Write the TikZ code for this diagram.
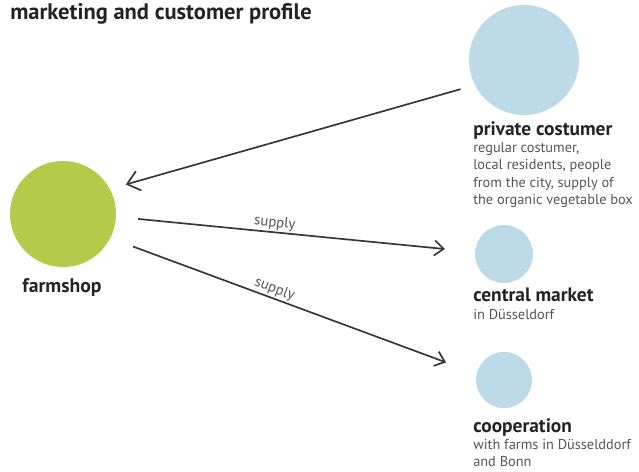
\documentclass[tikz,border=0pt]{standalone}
\usepackage{fontspec}
\setmainfont{PT Sans}
\usetikzlibrary{arrows.meta}
\tikzset{>={Straight Barb[length=2.3mm,width=3.8mm]}}
\definecolor{farmgreen}{RGB}{180,202,75}
\definecolor{custblue}{RGB}{188,218,231}
\definecolor{linegrey}{RGB}{55,55,55}
\definecolor{textgrey}{RGB}{85,85,85}
\definecolor{headgrey}{RGB}{35,35,35}
\tikzstyle{greendot}=[circle,fill=farmgreen,inner sep=0pt]
\tikzstyle{bluedot}=[circle,fill=custblue,inner sep=0pt]
\tikzstyle{arrowline}=[draw=linegrey,line width=1.2pt]
\tikzstyle{infotext}=[anchor=north west,inner sep=0pt,align=left,text=textgrey,font=\fontsize{10.2}{12.4}\selectfont]
\tikzstyle{supplytext}=[text=textgrey,inner sep=1pt,font=\fontsize{10.5}{11}\selectfont]
\newcommand{\headline}[1]{{\fontsize{13.8}{12.4}\selectfont\bfseries\color{headgrey}\strut #1}}

\begin{document}
\begin{tikzpicture}[x=0.025cm,y=-0.025cm]
    \useasboundingbox (0,0) rectangle (639,472);
    \node[anchor=base west,inner sep=0pt,text=headgrey,font=\fontsize{16}{18}\selectfont\bfseries] (title) at (10,20) {marketing and customer profile};

    % farm shop
    \node[greendot,minimum size=2.65cm] (farm) at (63,214) {};
    \node[anchor=base,inner sep=0pt,text=headgrey,font=\fontsize{14}{16}\selectfont\bfseries] (farmlabel) at (62,292) {farmshop};

    % customers
    \node[bluedot,minimum size=2.75cm] (private) at (524,60) {};
    \node[infotext] (privatetext) at (473,121) {\headline{private costumer}\\ regular costumer,\\ local residents, people\\ from the city, supply of\\ the organic vegetable box};

    \node[bluedot,minimum size=1.45cm] (central) at (504,254) {};
    \node[infotext] (centraltext) at (473,288) {\headline{central market}\\ in Düsseldorf};

    \node[bluedot,minimum size=1.4cm] (coop) at (504,380) {};
    \node[infotext] (cooptext) at (473,418) {\headline{cooperation}\\ with farms in Düsselddorf\\ and Bonn};

    % arrows
    \draw[arrowline,-{Straight Barb[length=3mm,width=5mm]},shorten <=0.37cm,shorten >=0.41cm] (private.207.3) -- (farm.28.4);
    \draw[arrowline,->,shorten <=0.55cm,shorten >=0.75cm] (farm.357.7) -- (central.176.1)
        node[pos=0.44,sloped,above,supplytext] (supplyone) {supply};
    \draw[arrowline,->,shorten <=0.6cm,shorten >=0.81cm] (farm.333.8) -- (coop.167.6)
        node[pos=0.44,sloped,above,supplytext] (supplytwo) {supply};
\end{tikzpicture}
\end{document}
